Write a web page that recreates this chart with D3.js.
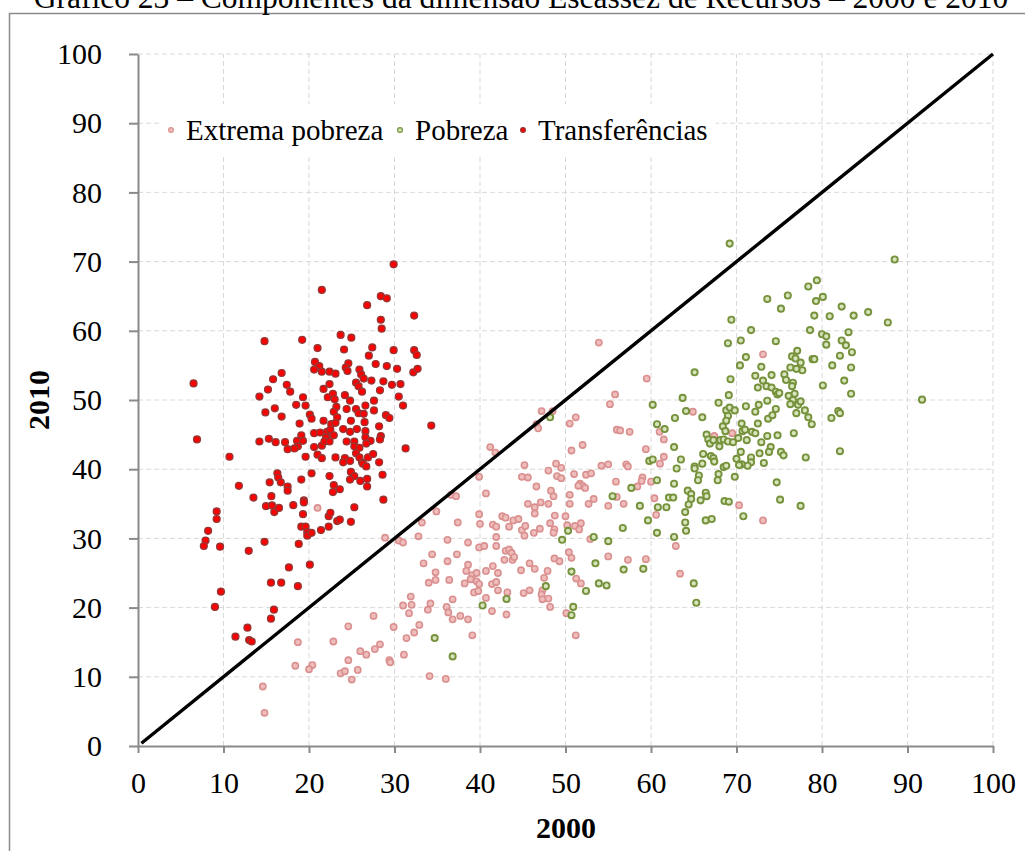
<!DOCTYPE html>
<html>
<head>
<meta charset="utf-8">
<script src="https://cdn.jsdelivr.net/npm/d3@7"></script>
<style>
  body { margin: 0; background: #fff; }
  text { font-family: "Liberation Serif", "Times New Roman", serif; fill: #000; }
</style>
</head>
<body>
<svg id="chart"></svg>
<script>
/* Data: [2000, 2010] pairs */
const seriesNames = ["Extrema pobreza", "Pobreza", "Transferências"];
const ticks = [0, 10, 20, 30, 40, 50, 60, 70, 80, 90, 100];
const diagonal = [[0.4, 0.4], [100, 100]];

const extremaPobreza = [
  [21.0,34.4],[28.9,30.1],[30.5,29.7],[31.0,29.4],[32.8,30.3],[31.9,21.6],[31.0,20.3],[32.0,20.4],
  [31.7,19.2],[27.55,18.8],[24.6,17.3],[29.9,17.2],[32.9,17.5],[32.3,16.4],[31.4,15.6],[18.7,15.0],
  [22.85,15.1],[26.0,13.7],[26.7,13.2],[27.7,14.0],[28.3,14.7],[31.1,13.2],[24.6,12.4],[29.4,12.4],
  [41.2,43.2],[41.8,42.4],[39.9,38.9],[40.7,36.5],[36.6,36.3],[37.2,36.1],[34.9,33.9],[33.2,32.3],
  [37.4,32.3],[39.9,33.5],[40.0,32.1],[41.5,32.0],[41.9,31.7],[41.9,30.2],[36.2,29.8],[38.6,29.4],
  [39.9,28.7],[40.5,28.9],[41.9,28.9],[34.4,27.7],[33.4,26.4],[36.2,26.7],[37.3,27.7],[34.8,25.1],
  [38.6,26.2],[38.4,25.3],[39.1,24.7],[39.6,25.0],[38.9,24.1],[39.6,23.8],[40.7,25.3],[41.5,26.0],
  [42.1,25.0],[34.0,23.6],[34.8,24.0],[36.4,24.0],[38.2,23.5],[39.9,23.4],[41.4,23.4],[41.9,23.7],
  [39.3,22.2],[39.8,22.4],[42.1,22.5],[40.7,21.4],[41.4,19.5],[34.2,20.6],[33.9,19.7],[36.1,20.1],
  [36.3,19.3],[36.8,21.2],[36.8,18.3],[37.7,18.8],[38.6,18.3],[39.1,16.0],[29.5,12.1],[18.4,11.6],
  [20.4,11.7],[20.0,11.1],[23.7,10.5],[24.2,10.8],[25.7,11.0],[25.0,9.6],[14.6,8.6],[34.1,10.1],
  [36.0,9.7],[14.8,4.8],
  [53.9,58.3],[59.5,53.1],[55.8,50.8],[55.2,49.4],[47.2,48.4],[48.5,48.4],[46.6,46.5],[46.8,45.9],
  [50.5,46.6],[51.2,47.5],[56.0,45.7],[56.4,45.6],[57.5,45.4],[52.0,43.5],[50.7,42.7],[59.4,42.9],
  [45.2,40.6],[48.9,40.8],[49.5,40.2],[48.0,39.8],[44.9,38.9],[45.6,38.8],[49.0,39.0],[49.5,38.7],
  [51.0,39.3],[52.4,39.2],[53.0,39.4],[54.2,40.5],[55.0,40.7],[57.1,40.7],[57.3,40.4],[46.6,37.5],
  [48.3,36.9],[48.6,36.1],[51.7,37.9],[52.0,37.6],[52.3,37.3],[51.5,37.6],[50.5,36.3],[55.9,38.2],
  [59.0,38.8],[58.4,37.5],[58.9,38.3],[45.6,35.0],[46.4,34.5],[47.1,35.2],[48.0,35.0],[46.4,33.6],
  [50.5,35.0],[52.7,35.0],[53.3,35.7],[55.0,34.7],[56.0,36.0],[56.8,35.0],[42.6,33.2],[43.0,33.0],
  [43.4,31.7],[43.9,32.6],[44.5,32.8],[44.9,31.2],[45.3,31.8],[45.2,30.4],[46.3,30.8],[47.0,31.4],
  [48.2,32.2],[48.75,33.3],[48.7,31.3],[48.6,30.8],[50.0,33.2],[50.2,31.9],[51.1,31.8],[51.6,31.3],
  [51.8,32.2],[52.9,29.9],[43.0,28.2],[43.4,28.4],[43.7,27.9],[42.85,26.9],[43.8,26.9],[44.0,27.3],
  [44.8,25.4],[45.8,26.4],[46.4,25.6],[47.9,25.3],[47.5,24.3],[47.3,22.5],[48.7,27.1],[49.3,26.7],
  [50.4,28.0],[50.7,27.2],[51.25,24.2],[51.8,23.5],[45.8,22.5],[45.1,22.1],[47.2,21.9],[48.0,21.3],
  [47.3,21.2],[48.2,20.1],[50.1,19.2],[43.1,19.0],[43.2,22.2],[55.0,27.4],[57.3,26.9],[59.4,27.0],
  [73.1,56.6],[64.9,48.3],[61.0,45.4],[61.5,44.3],[67.4,44.8],[69.5,45.2],[61.05,40.8],[61.5,41.8],
  [60.0,38.2],[60.4,35.8],[60.6,33.4],[70.3,34.8],[73.1,32.6],[62.9,28.9],[63.4,24.9],[51.2,16.0]
];

const pobreza = [
  [40.3,20.3],[34.7,15.6],[36.8,12.95],
  [48.2,47.5],[50.3,31.1],[49.6,29.8],[53.3,30.2],[55.0,29.6],[50.7,25.2],[53.5,26.4],[53.9,23.5],
  [54.8,23.2],[52.4,22.4],[47.7,23.1],[43.1,21.25],[50.9,20.1],[50.7,18.9],[55.5,36.1],[57.7,37.3],
  [58.7,34.7],[56.7,31.5],[56.8,25.5],[59.1,25.6],[59.65,32.6],[59.8,41.2],[65.0,23.5],[65.3,20.7],
  [69.2,72.6],[88.5,70.3],[78.4,66.4],[79.4,67.3],[73.6,64.6],[76.0,65.1],[75.2,63.2],[79.3,64.3],
  [80.1,64.9],[82.3,63.5],[79.1,62.2],[80.9,62.1],[83.7,62.2],[85.4,62.7],[87.7,61.2],[69.4,61.6],
  [71.7,60.1],[78.6,60.1],[80.0,59.5],[80.5,59.2],[80.5,58.0],[83.1,59.8],[82.3,58.6],[82.8,57.9],
  [83.5,56.9],[82.1,56.4],[83.4,54.7],[81.2,55.0],[82.6,52.8],[83.4,50.9],[70.5,58.6],[69.0,58.2],
  [74.6,58.5],[71.1,56.2],[70.4,55.0],[72.9,54.8],[77.1,57.1],[76.5,56.3],[76.9,56.0],[77.5,55.4],
  [77.7,54.3],[77.0,54.5],[76.3,54.7],[78.9,55.9],[79.1,55.9],[75.6,53.7],[75.8,52.9],[74.1,53.6],
  [73.1,52.8],[72.2,53.5],[72.5,51.8],[73.5,52.0],[74.1,51.8],[74.6,51.2],[74.8,50.8],[75.0,51.0],
  [76.6,52.5],[76.5,52.0],[76.8,50.9],[76.1,50.6],[76.6,50.0],[76.3,49.4],[77.2,49.3],[77.5,49.8],
  [69.3,53.0],[69.1,50.7],[65.1,54.0],[63.7,50.3],[60.2,49.3],[64.1,48.4],[66.0,47.5],[62.8,47.4],
  [67.9,49.6],[68.8,48.5],[69.0,47.7],[69.2,48.9],[69.8,48.5],[68.8,47.0],[71.1,49.1],[72.6,49.3],
  [72.2,48.3],[73.6,49.9],[74.6,48.7],[73.7,47.3],[74.2,47.8],[78.0,48.5],[78.4,47.5],[78.8,46.5],
  [80.1,52.1],[81.1,47.4],[81.9,48.4],[82.1,48.1],[77.0,48.1],[72.5,46.6],[70.6,46.6],[60.7,46.5],
  [61.6,45.8],[66.5,45.0],[66.7,44.3],[66.9,43.7],[67.3,44.2],[68.0,43.3],[68.4,46.2],[68.7,45.5],
  [68.1,44.2],[68.5,44.3],[69.0,44.0],[69.6,43.9],[70.2,44.5],[70.7,45.5],[71.0,45.7],[71.2,44.2],
  [71.8,45.4],[72.2,45.2],[72.9,43.9],[73.6,44.8],[74.8,44.9],[76.7,45.2],[74.0,43.2],[73.8,42.5],
  [75.2,42.5],[75.5,42.0],[78.1,41.7],[82.1,42.6],[70.5,42.5],[71.7,41.7],[71.7,41.0],[70.6,40.7],
  [71.3,40.5],[70.3,40.6],[70.0,41.5],[72.7,42.3],[73.2,40.9],[74.7,38.1],[75.1,35.6],[77.5,34.7],
  [70.8,33.2],[62.7,43.2],[63.5,41.4],[60.2,41.4],[63.0,40.1],[65.1,40.4],[65.1,40.1],[66.1,42.2],
  [66.0,40.8],[67.0,41.9],[67.3,41.6],[67.4,41.1],[68.5,40.3],[68.8,40.5],[67.9,39.3],[67.8,38.4],
  [69.8,38.9],[65.6,39.1],[65.5,38.4],[60.7,38.4],[62.7,37.9],[62.1,35.9],[62.6,35.9],[60.8,34.5],
  [61.8,34.5],[64.3,36.9],[64.7,36.4],[64.7,35.7],[64.4,34.9],[66.4,36.6],[66.5,36.1],[65.8,35.5],
  [68.6,35.4],[69.1,35.3],[64.0,33.8],[64.0,32.3],[66.4,32.6],[67.1,32.8],[60.7,30.8],[62.7,30.2],
  [64.1,31.1],[91.7,50.05]
];

const transferencias = [
  [29.9,69.6],[21.5,65.9],[28.4,65.0],[29.1,64.7],[26.8,63.7],[32.3,62.2],[28.4,61.6],[28.5,60.3],
  [14.8,58.5],[19.2,58.7],[23.7,59.4],[24.95,59.0],[21.0,57.5],[24.1,57.3],[27.4,57.6],[27.0,56.4],
  [29.9,57.2],[32.3,57.2],[32.6,56.5],[20.7,55.5],[21.2,54.9],[20.6,54.4],[21.5,54.1],[22.4,54.1],
  [23.1,53.8],[24.6,55.3],[24.3,54.7],[24.5,54.2],[25.9,54.4],[26.1,53.7],[26.4,53.1],[27.8,55.2],
  [29.1,54.9],[30.3,54.5],[32.2,54.0],[32.7,54.5],[6.5,52.4],[16.8,53.9],[15.8,53.0],[17.4,52.2],
  [15.2,51.5],[17.8,51.2],[14.2,50.5],[19.3,50.4],[21.7,51.6],[22.4,52.3],[22.2,50.4],[22.8,50.9],
  [23.0,50.1],[24.2,50.7],[24.8,49.9],[25.5,52.5],[25.8,52.0],[26.2,51.2],[27.3,52.8],[28.7,52.7],
  [29.7,52.2],[30.7,52.3],[28.3,51.4],[30.5,50.5],[31.0,49.2],[18.5,49.3],[19.6,49.2],[16.0,48.8],
  [14.9,48.2],[16.8,47.6],[20.1,47.9],[20.3,47.3],[23.2,49.0],[22.9,48.3],[23.3,47.5],[24.4,48.7],
  [25.5,48.7],[25.8,48.1],[26.4,48.0],[27.6,49.9],[27.6,48.5],[26.6,49.2],[29.0,47.8],[29.4,47.4],
  [18.9,46.6],[21.7,47.0],[22.6,46.5],[23.1,46.7],[24.9,47.0],[26.5,46.8],[24.0,45.8],[24.8,45.4],
  [25.6,45.8],[26.6,45.5],[28.2,46.2],[20.6,45.2],[21.3,45.3],[22.1,45.4],[22.5,45.7],[22.9,44.9],
  [22.0,44.6],[19.1,44.9],[28.4,44.8],[28.3,44.3],[26.6,44.6],[27.2,44.1],[26.7,43.7],[6.9,44.3],
  [14.2,44.0],[15.3,44.4],[16.1,43.9],[17.2,43.9],[18.6,44.1],[19.3,44.1],[18.7,43.3],[18.3,43.0],
  [17.5,42.9],[20.6,43.2],[21.5,43.4],[21.8,44.0],[22.4,44.0],[24.4,44.0],[25.3,44.0],[25.3,43.3],
  [25.9,43.1],[21.0,42.1],[21.5,41.6],[19.6,41.8],[10.7,41.8],[23.1,41.7],[24.2,41.6],[24.0,41.0],
  [24.8,41.2],[25.5,42.3],[25.9,41.7],[26.2,41.0],[26.9,41.7],[27.5,42.2],[28.2,41.0],[26.3,40.8],
  [26.7,40.4],[31.3,43.0],[16.3,39.4],[16.4,38.8],[16.7,38.1],[15.4,38.1],[17.5,37.5],[17.5,36.9],
  [19.1,38.5],[20.3,39.4],[22.4,39.0],[22.9,37.7],[22.8,36.7],[23.6,37.1],[24.9,39.6],[25.3,39.0],
  [24.8,38.5],[26.0,38.3],[26.8,38.6],[26.8,37.5],[28.6,39.2],[11.8,37.6],[13.5,35.9],[15.6,36.1],
  [19.4,35.5],[28.7,35.6],[34.3,46.3],
  [14.97,34.66],[15.67,34.76],[15.94,33.8],[16.49,34.4],[18.16,34.8],[19.4,35.2],[19.3,33.5],[9.2,33.9],
  [9.2,32.8],[8.2,31.1],[7.9,29.7],[7.7,28.9],[9.6,28.8],[12.95,28.2],[14.8,29.5],[18.8,29.2],
  [19.1,31.7],[19.6,31.7],[19.8,30.9],[19.8,30.4],[20.3,30.8],[21.4,31.2],[22.3,31.7],[22.3,33.2],
  [22.5,33.7],[23.3,32.5],[23.6,32.7],[24.9,32.4],[25.3,34.5],[17.65,25.8],[20.1,26.2],[15.55,23.6],
  [16.75,23.6],[18.7,23.1],[9.7,22.3],[9.0,20.1],[15.9,19.7],[15.55,18.4],[12.8,17.1],[11.4,15.8],
  [13.0,15.3],[13.3,15.1]
];

/* set the dimensions of the page and the plot box */
const width = 1025, height = 851;
const plot = { left: 138, right: 993, top: 54, bottom: 746 };
const font = '"Liberation Serif", "Times New Roman", serif';

const svg = d3.select("#chart")
  .attr("width", width)
  .attr("height", height);

/* outer frame (only top and left edges are in view) */
svg.append("rect")
  .attr("x", 9.5).attr("y", 13.5)
  .attr("width", 1200).attr("height", 1000)
  .attr("fill", "none")
  .attr("stroke", "#8a8a8a")
  .attr("stroke-width", 1.5);

/* title, cut by the top edge as in the source */
svg.append("text")
  .attr("x", 521).attr("y", 8)
  .attr("text-anchor", "middle")
  .style("font-size", "31.5px")
  .text("Gráfico 23 – Componentes da dimensão Escassez de Recursos – 2000 e 2010");

/* scales */
const x = d3.scaleLinear().domain([0, 100]).range([plot.left, plot.right]);
const y = d3.scaleLinear().domain([0, 100]).range([plot.bottom, plot.top]);

/* dashed grid */
const grid = svg.append("g").attr("class", "grid")
  .attr("stroke", "#d9d9d9")
  .attr("stroke-width", 1)
  .attr("stroke-dasharray", "5,3");

grid.selectAll("line.v").data(ticks.slice(1)).join("line")
  .attr("class", "v")
  .attr("x1", d => x(d)).attr("x2", d => x(d))
  .attr("y1", y(0)).attr("y2", y(100));

grid.selectAll("line.h").data(ticks.slice(1)).join("line")
  .attr("class", "h")
  .attr("x1", x(0)).attr("x2", x(100))
  .attr("y1", d => y(d)).attr("y2", d => y(d));

/* axes */
const xAxis = svg.append("g")
  .attr("transform", `translate(0, ${plot.bottom})`)
  .call(d3.axisBottom(x).tickValues(ticks).tickSize(7).tickSizeOuter(0).tickPadding(19));

const yAxis = svg.append("g")
  .attr("transform", `translate(${plot.left}, 0)`)
  .call(d3.axisLeft(y).tickValues(ticks).tickSize(9).tickSizeOuter(0).tickPadding(27));

[xAxis, yAxis].forEach(ax => {
  ax.select(".domain").attr("stroke", "#8a8a8a").attr("stroke-width", 2);
  ax.selectAll(".tick line").attr("stroke", "#8a8a8a").attr("stroke-width", 2);
  ax.selectAll(".tick text")
    .attr("fill", "#000")
    .style("font-family", font)
    .style("font-size", "30px");
});

/* axis titles */
svg.append("text")
  .attr("x", 566).attr("y", 838)
  .attr("text-anchor", "middle")
  .style("font-size", "30px")
  .style("font-weight", "bold")
  .text("2000");

svg.append("text")
  .attr("transform", `translate(49, ${y(50)}) rotate(-90)`)
  .attr("text-anchor", "middle")
  .style("font-size", "30px")
  .style("font-weight", "bold")
  .text("2010");

/* marker styles per series */
const styles = [
  { data: extremaPobreza, fill: "#efbdbc", stroke: "#d9908f", r: 3.1, sw: 1.6 },
  { data: pobreza, fill: "#d8e4bc", stroke: "#76923c", r: 3.1, sw: 1.9 },
  { data: transferencias, fill: "#ff0000", stroke: "#963634", r: 3.4, sw: 1.4 }
];

styles.forEach(s => {
  svg.append("g")
    .selectAll("circle")
    .data(s.data)
    .join("circle")
    .attr("cx", d => x(d[0]))
    .attr("cy", d => y(d[1]))
    .attr("r", s.r)
    .attr("fill", s.fill)
    .attr("stroke", s.stroke)
    .attr("stroke-width", s.sw);
});

/* 45 degree reference line */
svg.append("path")
  .datum(diagonal)
  .attr("fill", "none")
  .attr("stroke", "#000")
  .attr("stroke-width", 3.4)
  .attr("d", d3.line().x(d => x(d[0])).y(d => y(d[1])));

/* legend */
const legend = svg.append("g");
legend.append("rect")
  .attr("x", 160).attr("y", 104)
  .attr("width", 556).attr("height", 52)
  .attr("fill", "#fff");

const legendX = [171, 400, 523];
const legendItems = legend.selectAll("g.item")
  .data(styles)
  .join("g")
  .attr("class", "item")
  .attr("transform", (d, i) => `translate(${legendX[i]}, 130)`);

legendItems.append("circle")
  .attr("r", 2.4)
  .attr("fill", d => d.fill)
  .attr("stroke", d => d.stroke)
  .attr("stroke-width", 1.2);

legendItems.append("text")
  .attr("x", 15).attr("y", 10)
  .style("font-size", "29px")
  .text((d, i) => seriesNames[i]);
</script>
</body>
</html>
